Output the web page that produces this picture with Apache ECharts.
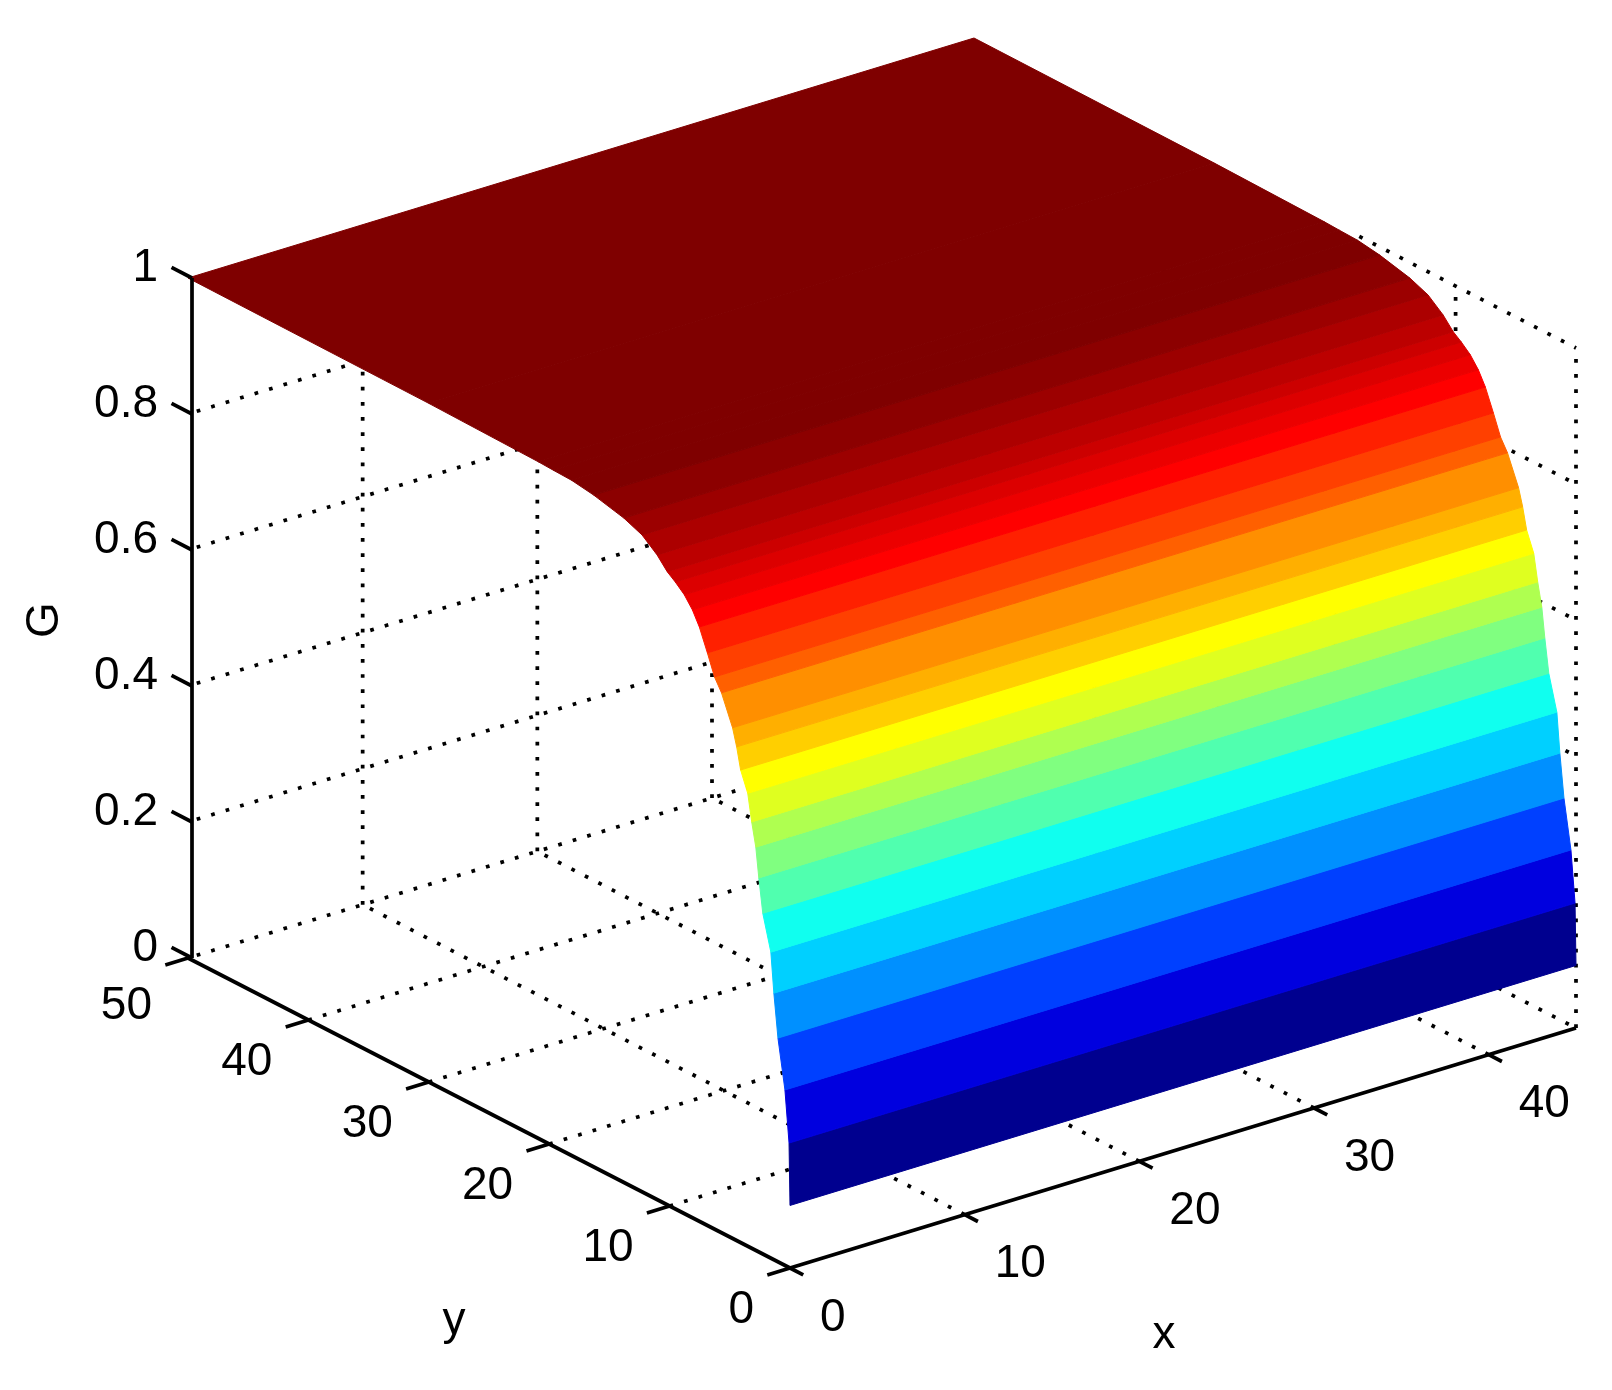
<!DOCTYPE html>
<html>
<head>
<meta charset="utf-8">
<style>html,body{margin:0;padding:0;background:#fff}#c{width:1612px;height:1390px}</style>
<script src="https://cdn.jsdelivr.net/npm/echarts@6/dist/echarts.min.js"></script>
</head>
<body>
<div id="c"></div>
<script>
// ---- data ----
const xMax = 45, yMax = 50, zMax = 1;
const xTicks = [0, 10, 20, 30, 40];
const yTicks = [0, 10, 20, 30, 40, 50];
const zTicks = [0, 0.2, 0.4, 0.6, 0.8, 1];
const zTickLabels = ['0', '0.2', '0.4', '0.6', '0.8', '1'];
// surface profile G(y); G does not vary with x
const yGrid = [0, 0.08, 0.42, 1.0, 1.34, 1.59, 2.26, 2.59, 2.84, 3.18, 3.51, 4.10, 4.43, 4.77, 5.69, 6.27, 6.86, 7.53, 8.11, 8.78, 9.53, 10.2, 11.04, 12.29, 13.8, 16.3, 18.14, 19.65, 20.9, 30, 50];
const gGrid = [0.092, 0.183, 0.258, 0.329, 0.392, 0.450, 0.501, 0.550, 0.593, 0.627, 0.666, 0.695, 0.726, 0.751, 0.794, 0.812, 0.842, 0.874, 0.894, 0.910, 0.922, 0.931, 0.948, 0.966, 0.977, 0.988, 0.993, 0.994, 0.995, 0.998, 1];
const bandColors = ['#00008f', '#0000df', '#0040ff', '#0090ff', '#00d0ff', '#10ffef', '#50ffaf', '#80ff80', '#afff50', '#dfff20', '#ffff00', '#ffcf00', '#ffaf00', '#ff8f00', '#ff6000', '#ff4000', '#ff2000', '#ff0000', '#ec0000', '#dc0000', '#cc0000', '#bc0000', '#ac0000', '#9c0000', '#8c0000', '#7f0000', '#7f0000', '#7f0000', '#7f0000', '#7f0000'];

// ---- orthographic view of the box ----
const view = { ox: 790, oy: 1268, xx: 786 / 45, xy: -240 / 45, yx: -602 / 50, yy: -310 / 50, zy: -680 };
const zAxisNudge = 4;
const project = (x, y, z) => [view.ox + view.xx * x + view.yx * y, view.oy + view.xy * x + view.yy * y + view.zy * z];

// ---- line lists built from the ticks ----
const gridSegs = [];
zTicks.forEach(z => {
  if (z < zMax) gridSegs.push([[0.5, yMax, z], [xMax, yMax, z]]);
  gridSegs.push([[xMax, z < zMax ? yMax : 18, z], [xMax, 0, z]]);
});
xTicks.slice(1).concat([xMax]).forEach(x => {
  gridSegs.push([[x, yMax, 0], [x, yMax, zMax]]);
  if (x < xMax) gridSegs.push([[x, 0, 0], [x, yMax, 0]]);
});
yTicks.forEach(y => {
  if (y < yMax) {
    gridSegs.push([[xMax, y, 0], [xMax, y, zMax]]);
    if (y > 0) gridSegs.push([[0, y, 0], [xMax, y, 0]]);
  }
});
const axisSegs = [
  [[0, 0, 0], [xMax, 0, 0]],
  [[0, 0, 0], [0, yMax, 0]],
];
xTicks.forEach(x => axisSegs.push([[x, 0, 0], [x, -1.1, 0]]));
yTicks.forEach(y => axisSegs.push([[0, y, 0], [-1.3, y, 0]]));
const zAxisSegs = [[[0, yMax, 0], [0, yMax, zMax]]];
zTicks.forEach(z => zAxisSegs.push([[0, yMax, z], [0, yMax + 1.7, z]]));

const labels = [];
xTicks.forEach(x => labels.push({ p: [x, 0, 0], t: String(x), dx: 30, dy: 50, a: 'left' }));
yTicks.forEach(y => labels.push({ p: [0, y, 0], t: String(y), dx: -36, dy: y === 50 ? 48 : 42, a: 'right' }));
zTicks.forEach((z, i) => labels.push({ p: [0, yMax, z], t: zTickLabels[i], dx: -30, dy: -10, a: 'right' }));
const axisTitles = [
  { t: 'x', at: [1164, 1335], rot: 0 },
  { t: 'y', at: [454, 1321], rot: 0 },
  { t: 'G', at: [45, 620], rot: Math.PI / 2 }
];

const FONT = '"Liberation Sans", Arial, Helvetica, sans-serif';
const lineItem = (api, seg, dx, style) => {
  const a = api.coord(project(seg[0][0], seg[0][1], seg[0][2]));
  const b = api.coord(project(seg[1][0], seg[1][1], seg[1][2]));
  return { type: 'line', shape: { x1: a[0] + dx, y1: a[1], x2: b[0] + dx, y2: b[1] }, style };
};
const customBase = { type: 'custom', silent: true, clip: false, coordinateSystem: 'cartesian2d' };

const chart = echarts.init(document.getElementById('c'), null, { renderer: 'canvas' });
chart.setOption({
  animation: false,
  backgroundColor: '#ffffff',
  grid: { left: 0, right: 0, top: 0, bottom: 0 },
  xAxis: { type: 'value', min: 0, max: 1612, show: false },
  yAxis: { type: 'value', min: 0, max: 1390, inverse: true, show: false },
  tooltip: { show: false },
  series: [
    Object.assign({}, customBase, {
      z: 1,
      data: gridSegs.map((s, i) => [i]),
      renderItem(params, api) {
        return lineItem(api, gridSegs[api.value(0)], 0, { stroke: '#000', lineWidth: 3.72, lineDash: [3.72, 11.4], fill: null });
      }
    }),
    Object.assign({}, customBase, {
      z: 2,
      data: bandColors.map((c, i) => [i]),
      renderItem(params, api) {
        const i = api.value(0);
        const pts = [[0, yGrid[i], gGrid[i]], [xMax, yGrid[i], gGrid[i]], [xMax, yGrid[i + 1], gGrid[i + 1]], [0, yGrid[i + 1], gGrid[i + 1]]]
          .map(p => api.coord(project(p[0], p[1], p[2])));
        return { type: 'polygon', shape: { points: pts }, style: { fill: bandColors[i], stroke: bandColors[i], lineWidth: 1 } };
      }
    }),
    Object.assign({}, customBase, {
      z: 3,
      data: axisSegs.map((s, i) => [i]),
      renderItem(params, api) {
        return lineItem(api, axisSegs[api.value(0)], 0, { stroke: '#000', lineWidth: 3.72, fill: null });
      }
    }),
    Object.assign({}, customBase, {
      z: 3,
      data: zAxisSegs.map((s, i) => [i]),
      renderItem(params, api) {
        return lineItem(api, zAxisSegs[api.value(0)], zAxisNudge, { stroke: '#000', lineWidth: 3.72, fill: null });
      }
    }),
    Object.assign({}, customBase, {
      z: 4,
      data: labels.map((s, i) => [i]),
      renderItem(params, api) {
        const l = labels[api.value(0)];
        const c = api.coord(project(l.p[0], l.p[1], l.p[2]));
        return { type: 'text', x: c[0] + l.dx, y: c[1] + l.dy,
          style: { text: l.t, fill: '#000', font: '46px ' + FONT, align: l.a, verticalAlign: 'middle' } };
      }
    }),
    Object.assign({}, customBase, {
      z: 4,
      data: axisTitles.map((s, i) => [i]),
      renderItem(params, api) {
        const l = axisTitles[api.value(0)];
        const c = api.coord(l.at);
        return { type: 'text', x: c[0], y: c[1], rotation: l.rot,
          style: { text: l.t, fill: '#000', font: '46px ' + FONT, align: 'center', verticalAlign: 'middle' } };
      }
    })
  ]
});
</script>
</body>
</html>
